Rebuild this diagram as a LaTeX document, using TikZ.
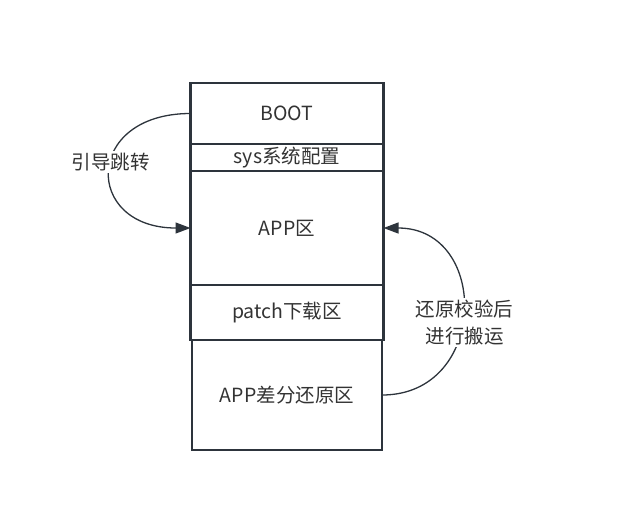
\documentclass[tikz,border=0pt]{standalone}
\usepackage{fontspec}
\setmainfont{Noto Sans CJK SC}
\usetikzlibrary{positioning, arrows.meta}
\definecolor{linegray}{RGB}{45,52,60}
\definecolor{textgray}{RGB}{51,51,51}

\begin{document}
\begin{tikzpicture}[x=1pt, y=-1pt, font=\fontsize{19.5}{27}\selectfont, text=textgray]
\tikzstyle{region}=[draw=linegray, line width=1.3pt, rectangle, minimum width=193pt, outer sep=0pt, inner sep=0pt]
\tikzstyle{jump}=[draw=linegray, line width=1.3pt, -{Triangle[length=15pt,width=11pt]}]
\tikzstyle{note}=[fill=white, inner sep=2pt, align=center]
\useasboundingbox (0,0) rectangle (620,531);

\node[region, minimum height=61pt] (boot) at (287,113.5) {BOOT};
\node[region, minimum height=27pt] (sys) [below=0pt of boot] {sys系统配置};
\node[region, minimum height=114pt] (app) [below=0pt of sys] {APP区};
\node[region, minimum height=55pt] (patch) [below=0pt of app] {patch下载区};
\node[region, minimum height=110pt, minimum width=190pt] (diff) [below=0pt of patch] {APP差分还原区};

% thick frame round the flash regions
\draw[draw=linegray, line width=2.4pt] (boot.north west) rectangle (patch.south east);

\draw[jump] (boot.west) to[out=180, in=180, looseness=2.4] node[note, pos=0.45] {引导跳转} (app.west);
\draw[jump] (diff.east) to[out=0, in=0, looseness=1.63] node[note, pos=0.5, yshift=-11pt, xshift=2pt] {还原校验后\\进行搬运} (app.east);
\end{tikzpicture}
\end{document}
